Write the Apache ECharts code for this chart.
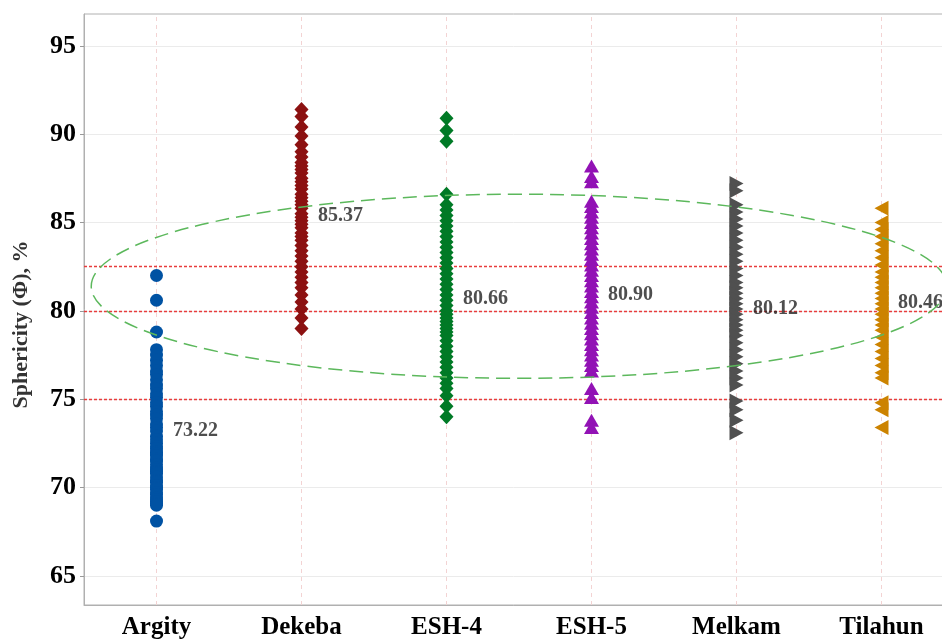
<!DOCTYPE html>
<html>
<head>
<meta charset="utf-8">
<title>Sphericity</title>
<script src="https://cdn.jsdelivr.net/npm/echarts@6/dist/echarts.min.js"></script>
<style>
  html, body { margin: 0; padding: 0; background: #fff; }
  #container { width: 942px; height: 639px; }
</style>
</head>
<body>
<div id="container"></div>
<script>
// 品种
var categories = ['Argity', 'Dekeba', 'ESH-4', 'ESH-5', 'Melkam', 'Tilahun'];
var yTicks = [65, 70, 75, 80, 85, 90, 95];

// 各品种的球形度 (%)
var argity = [82.0, 80.6, 78.8, 77.8, 77.5, 77.2, 76.9, 76.6, 76.4, 76.1, 75.8, 75.6, 75.3, 75.1, 74.8, 74.6,
    74.3, 74.1, 73.9, 73.6, 73.4, 73.2, 72.9, 72.7, 72.5, 72.3, 72.2, 72.0, 71.9, 71.8, 71.6, 71.5, 71.3,
    71.1, 71.0, 70.9, 70.8, 70.6, 70.4, 70.3, 70.1, 70.0, 69.9, 69.7, 69.6, 69.4, 69.3, 69.2, 69.1, 69.0, 68.1];
var dekeba = [91.4, 91.0, 90.4, 89.9, 89.4, 89.0, 88.7, 88.4, 88.2, 88.0, 87.8, 87.5, 87.3, 87.1, 86.9, 86.6,
    86.4, 86.2, 86.0, 85.8, 85.5, 85.3, 85.1, 84.9, 84.7, 84.4, 84.2, 84.0, 83.7, 83.4, 83.1, 82.8, 82.5,
    82.2, 81.9, 81.6, 81.3, 80.9, 80.5, 80.1, 79.6, 79.0];
var esh4 = [90.9, 90.2, 89.6, 86.6, 86.0, 85.7, 85.4, 85.1, 84.8, 84.5, 84.2, 83.9, 83.6, 83.3, 83.0, 82.7,
    82.4, 82.1, 81.8, 81.5, 81.2, 80.9, 80.6, 80.3, 80.0, 79.8, 79.6, 79.4, 79.2, 79.0, 78.8, 78.6, 78.3,
    78.0, 77.7, 77.4, 77.1, 76.8, 76.5, 76.2, 75.9, 75.6, 75.2, 74.6, 74.0];
var esh5 = [88.2, 87.6, 87.3, 86.2, 85.9, 85.6, 85.3, 85.0, 84.7, 84.4, 84.1, 83.8, 83.5, 83.2, 82.9, 82.6,
    82.3, 82.0, 81.7, 81.4, 81.1, 80.8, 80.5, 80.2, 79.9, 79.6, 79.3, 79.0, 78.7, 78.4, 78.1, 77.8, 77.5,
    77.2, 76.9, 76.6, 75.6, 75.1, 73.8, 73.4];
var melkam = [87.2, 86.8, 86.0, 85.6, 85.2, 84.8, 84.4, 84.0, 83.6, 83.2, 82.8, 82.4, 82.0, 81.6, 81.3, 81.0,
    80.7, 80.4, 80.1, 79.8, 79.5, 79.2, 78.9, 78.6, 78.2, 77.8, 77.4, 77.0, 76.6, 76.2, 75.8, 74.9, 74.4,
    73.8, 73.1];
var tilahun = [85.8, 85.0, 84.6, 84.2, 83.8, 83.4, 83.0, 82.6, 82.2, 81.9, 81.6, 81.3, 81.0, 80.7, 80.4, 80.1,
    79.8, 79.5, 79.2, 78.9, 78.5, 78.1, 77.7, 77.3, 76.9, 76.5, 76.2, 74.8, 74.4, 73.4];

// 平均值
var means = [73.22, 85.37, 80.66, 80.90, 80.12, 80.46];
// 参考线
var refLines = [75, 80, 82.5];
// 椭圆: 中心 (类别位置, 值), 半轴 (类别单位, 值)
var ellipseParams = [2.5, 81.39, 2.95, 5.21];

var serif = 'Liberation Serif';
var groups = [argity, dekeba, esh4, esh5, melkam, tilahun];
var colors = ['#0052a3', '#8c1111', '#007a26', '#9212b5', '#505050', '#cc8300'];
var symbols = ['circle', 'diamond', 'diamond', 'triangle', 'triangle', 'triangle'];
var sizes = [13, [14, 15], [14, 15], [15, 13], [15, 14], [15, 14]];
var rotates = [0, 0, 0, 0, -90, 90];

var myChart = echarts.init(document.getElementById('container'));

var series = [{
    name: 'vgrid',
    type: 'line',
    data: [],
    z: 1,
    markLine: {
        z: 1,
        silent: true,
        symbol: 'none',
        label: { show: false },
        lineStyle: { color: '#f3d3d3', type: [4, 4], width: 1 },
        data: categories.map(function (c) { return { xAxis: c }; })
    }
}, {
    name: 'refs',
    type: 'line',
    data: [],
    z: 2,
    markLine: {
        z: 2,
        silent: true,
        symbol: 'none',
        label: { show: false },
        lineStyle: { color: '#e83c3c', type: [3, 2], width: 1.3, opacity: 1 },
        data: refLines.map(function (v) { return { yAxis: v }; })
    }
}];

groups.forEach(function (g, i) {
    series.push({
        name: categories[i],
        type: 'scatter',
        z: 3,
        symbol: symbols[i],
        symbolSize: sizes[i],
        symbolRotate: rotates[i],
        itemStyle: { color: colors[i], opacity: 1, borderWidth: 0 },
        data: g.map(function (v) { return [categories[i], v]; })
    });
});

series.push({
    name: 'mean',
    type: 'scatter',
    z: 4,
    symbolSize: 1,
    itemStyle: { color: 'rgba(0,0,0,0)', borderWidth: 0 },
    label: {
        show: true,
        position: 'right',
        distance: 16,
        formatter: function (p) { return p.value[1].toFixed(2); },
        fontFamily: serif,
        fontWeight: 'bold',
        fontSize: 20,
        color: '#222'
    },
    data: means.map(function (m, i) { return [categories[i], m]; })
});

series.push({
    name: 'ellipse',
    type: 'custom',
    xAxisIndex: 1,
    z: 5,
    silent: true,
    clip: false,
    renderItem: function (params, api) {
        var c = api.coord([api.value(0), api.value(1)]);
        var s = api.size([api.value(2), api.value(3)]);
        return {
            type: 'ellipse',
            shape: { cx: c[0], cy: c[1], rx: s[0], ry: s[1] },
            style: { fill: 'none', stroke: '#5cb85c', lineWidth: 1.5, lineDash: [14, 7] }
        };
    },
    data: [ellipseParams]
});

var option = {
    backgroundColor: '#fff',
    animation: false,
    grid: {
        left: 84,
        right: -12,
        top: 14,
        bottom: 34,
        outerBoundsMode: 'none',
        containLabel: false,
        show: true,
        borderColor: '#b0b0b0',
        borderWidth: 1
    },
    xAxis: [{
        type: 'category',
        data: categories,
        boundaryGap: true,
        axisLine: { onZero: false, lineStyle: { color: '#b0b0b0' } },
        axisTick: { alignWithLabel: true, length: 4, lineStyle: { color: '#999' } },
        axisLabel: { fontFamily: serif, fontWeight: 'bold', fontSize: 25, color: '#000', margin: 10 },
        splitLine: { show: false }
    }, {
        type: 'value',
        min: -0.5,
        max: 5.5,
        show: false,
        splitLine: { show: false }
    }],
    yAxis: {
        type: 'value',
        min: 63.35,
        max: 96.8,
        name: 'Sphericity (Φ), %',
        nameLocation: 'middle',
        nameGap: 52,
        nameTextStyle: { fontFamily: serif, fontWeight: 'bold', fontSize: 22, color: '#333', padding: [0, 30, 0, 0] },
        axisLine: { show: true, onZero: false, lineStyle: { color: '#b0b0b0' } },
        axisTick: { show: true, length: 4, customValues: yTicks, lineStyle: { color: '#999' } },
        axisLabel: { customValues: yTicks, fontFamily: serif, fontWeight: 'bold', fontSize: 26, color: '#000', margin: 8 },
        splitLine: { show: true, lineStyle: { color: '#ebebeb', width: 1 } }
    },
    series: series
};

myChart.setOption(option);
</script>
</body>
</html>
